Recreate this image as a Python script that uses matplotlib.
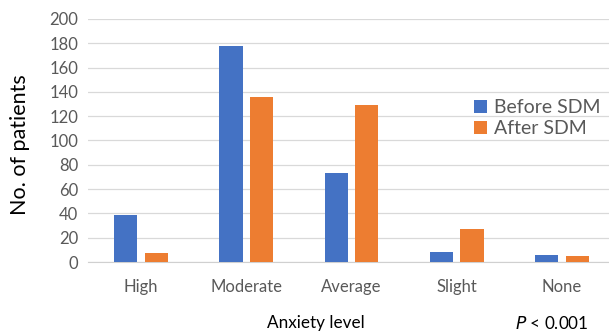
import numpy as np
import matplotlib.pyplot as plt

# anxiety levels and patient counts
levels = ["High", "Moderate", "Average", "Slight", "None"]
before_sdm = [39, 178, 73, 8, 6]
after_sdm = [7, 136, 129, 27, 5]
y_ticks = [0, 20, 40, 60, 80, 100, 120, 140, 160, 180, 200]

blue = "#4472C4"
orange = "#ED7D31"
grey_text = "#595959"

plt.rcParams["font.family"] = ["Lato", "DejaVu Sans"]

fig = plt.figure(figsize=(6.09, 3.33), dpi=100)
ax = fig.add_axes([0.1445, 0.2132, 0.8555, 0.7298])

x = np.arange(len(levels))
w = 0.22
off = 0.145
ax.bar(x - off, before_sdm, w, color=blue, label="Before SDM", zorder=3)
ax.bar(x + off, after_sdm, w, color=orange, label="After SDM", zorder=3)

ax.set_xlim(-0.504, 4.447)
ax.set_ylim(0, 200)
ax.set_yticks(y_ticks)
ax.set_xticks(x)
ax.set_xticklabels(levels)
ax.tick_params(axis="both", length=0, labelsize=12, colors=grey_text)
ax.tick_params(axis="x", pad=12)
ax.tick_params(axis="y", pad=7)
ax.grid(axis="y", color="#d9d9d9", linewidth=0.9, zorder=0)
for s in ["top", "right", "left"]:
    ax.spines[s].set_visible(False)
ax.spines["bottom"].set_color("#d0d0d0")

fig.text(0.033, 0.565, "No. of patients", rotation=90, fontsize=15.5,
         color="#000000", ha="center", va="center")

ax.legend(loc="center left", bbox_to_anchor=(0.765, 0.645),
          bbox_transform=fig.transFigure, frameon=False, fontsize=14,
          handlelength=0.7, handleheight=0.7, handletextpad=0.35,
          labelspacing=0.2, labelcolor=grey_text, borderaxespad=0)

fig.text(0.518, 0.03, "Anxiety level", fontsize=12.3, ha="center", va="center")
fig.text(0.967, 0.03, "$\\it{P}$ < 0.001", fontsize=12.3, ha="right", va="center")

fig.savefig("out.png", dpi=100)
